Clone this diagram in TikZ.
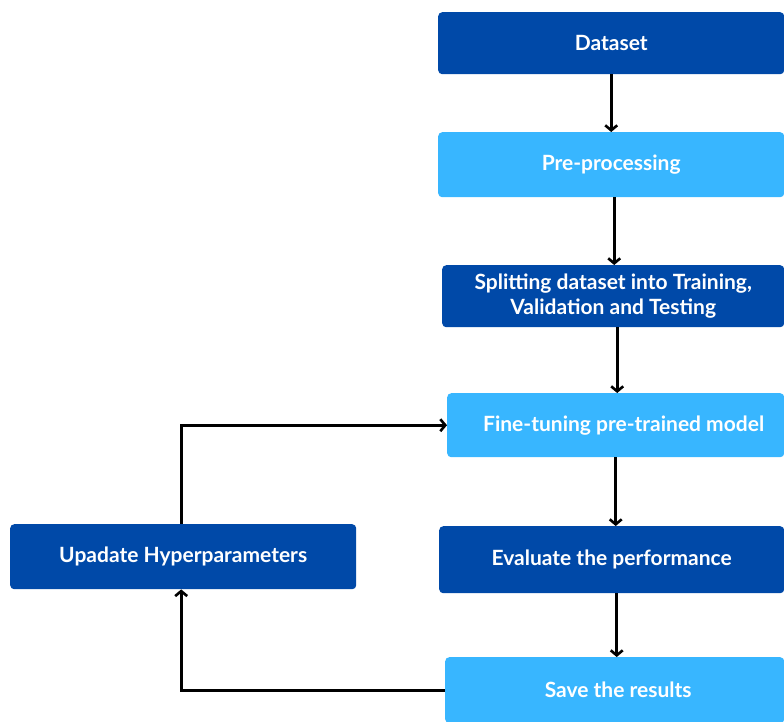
\documentclass[tikz,border=0pt]{standalone}
\usepackage{fontspec}
\setmainfont{Lato}
\usetikzlibrary{arrows.meta,positioning}
\definecolor{darkb}{HTML}{0049A8}
\definecolor{lightb}{HTML}{38B6FF}
\tikzset{
  box/.style={rectangle, rounded corners=4pt, draw=none, text=white, font=\bfseries\fontsize{21}{25}\selectfont, align=center, anchor=north west, inner sep=0pt},
  darkbox/.style={box, fill=darkb},
  lightbox/.style={box, fill=lightb},
  conn/.style={line width=3pt, -{Straight Barb[length=5pt,width=12pt,line width=2.6pt]}}
}
\begin{document}
\begin{tikzpicture}[x=1pt,y=-1pt]
\useasboundingbox (0,0) rectangle (784,721);
\node[darkbox, minimum width=346pt, minimum height=62pt] (d) at (438,12) {Dataset};
\node[lightbox, minimum width=346pt, minimum height=65pt] (p) at (438,132) {Pre-processing};
\node[darkbox, minimum width=342pt, minimum height=62pt] (s) at (442,265) {Splitting dataset into Training,\\Validation and Testing};
\node[lightbox, minimum width=337pt, minimum height=64pt] (f) at (447,393) {\hspace*{16pt}Fine-tuning pre-trained model};
\node[darkbox, minimum width=345pt, minimum height=67pt] (e) at (439,526) {Evaluate the performance};
\node[lightbox, minimum width=339pt, minimum height=66pt] (v) at (445,657) {\hspace*{7pt}Save the results};
\node[darkbox, minimum width=346pt, minimum height=65pt] (u) at (10,524) {Upadate Hyperparameters};
\draw[conn] (d.south) -- (d.south |- p.north);
\draw[conn] ([xshift=3pt]p.south) -- ([xshift=3pt]p.south |- s.north);
\draw[conn] ([xshift=4pt]s.south) -- ([xshift=4pt]s.south |- f.north);
\draw[conn] (f.south) -- (f.south |- e.north);
\draw[conn] ([xshift=5pt]e.south) -- ([xshift=5pt]e.south |- v.north);
\draw[conn] (v.west) -| ([xshift=-2pt]u.south);
\draw[conn] ([xshift=-2pt]u.north) |- (f.west);
\end{tikzpicture}
\end{document}
